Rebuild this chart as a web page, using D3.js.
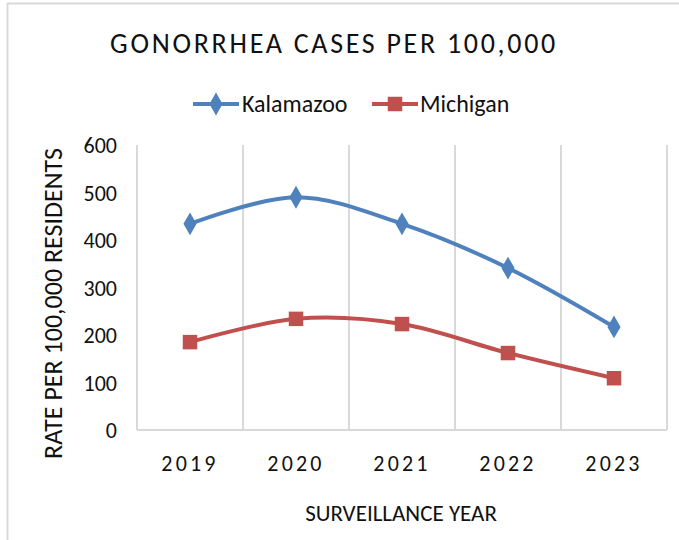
<!DOCTYPE html>
<html>
<head>
    <meta charset="utf-8">
    <script type="text/javascript" src="https://d3js.org/d3.v7.min.js"></script>
    <style>
        body { margin: 0; background: #fff; }
        text { font-family: Carlito, "Liberation Sans Narrow", "Open Sans", sans-serif; fill: #111; }
    </style>
</head>
<body>
    <div id="chart"></div>
    <script type="text/javascript">
        // chart data
        const years = ["2019", "2020", "2021", "2022", "2023"];
        const kalamazoo = [434, 490, 434, 341, 217];
        const michigan = [185, 234, 223, 162, 109];
        const yTicks = [0, 100, 200, 300, 400, 500, 600];

        const width = 679, height = 540;
        const plotLeft = 137, plotRight = 667, plotTop = 145, plotBottom = 430;

        const svg = d3.select("#chart")
            .append("svg")
            .attr("width", width)
            .attr("height", height);

        // outer chart border
        svg.append("rect")
            .attr("x", 7.5).attr("y", 3.5)
            .attr("width", 700).attr("height", 600)
            .style("fill", "none")
            .style("stroke", "#d9d9d9")
            .style("stroke-width", 2);

        let x = d3.scaleBand().domain(years).range([plotLeft, plotRight]);
        let y = d3.scaleLinear().domain([0, 600]).range([plotBottom, plotTop]);

        // vertical gridlines at category boundaries
        let bounds = years.map(d => x(d)).concat([plotRight]);
        svg.selectAll("line.grid")
            .data(bounds)
            .enter()
            .append("line")
            .attr("class", "grid")
            .attr("x1", d => d).attr("x2", d => d)
            .attr("y1", plotTop).attr("y2", plotBottom)
            .style("stroke", "#d9d9d9")
            .style("stroke-width", 2);

        svg.append("line")
            .attr("x1", plotLeft).attr("x2", plotRight)
            .attr("y1", plotBottom).attr("y2", plotBottom)
            .style("stroke", "#d9d9d9")
            .style("stroke-width", 2);

        // y axis labels
        let yAxis = svg.append("g")
            .attr("transform", `translate(${plotLeft - 20},0)`)
            .call(d3.axisLeft(y).tickValues(yTicks).tickSize(0).tickPadding(0));
        yAxis.select(".domain").remove();
        yAxis.attr("font-family", null).attr("font-size", null);
        yAxis.selectAll("text")
            .style("font-size", "22px")
            .attr("dy", "0.35em");

        // x axis labels
        let xAxis = svg.append("g")
            .attr("transform", `translate(0,${plotBottom})`)
            .call(d3.axisBottom(x).tickSize(0).tickPadding(25));
        xAxis.select(".domain").remove();
        xAxis.attr("font-family", null).attr("font-size", null);
        xAxis.selectAll("text")
            .style("font-size", "22px")
            .style("letter-spacing", "3.2px");

        // titles
        svg.append("text")
            .attr("x", 334).attr("y", 53)
            .attr("text-anchor", "middle")
            .style("font-size", "28px")
            .style("letter-spacing", "2.7px")
            .text("GONORRHEA CASES PER 100,000");

        svg.append("text")
            .attr("x", 401).attr("y", 521)
            .attr("text-anchor", "middle")
            .style("font-size", "23px")
            .text("SURVEILLANCE YEAR");

        svg.append("text")
            .attr("transform", `translate(62,${(plotTop + 462) / 2}) rotate(-90)`)
            .attr("text-anchor", "middle")
            .style("font-size", "26px")
            .text("RATE PER 100,000 RESIDENTS");

        // series
        const series = [
            {name: "Kalamazoo", values: kalamazoo, color: "#4f81bd", shape: d3.symbolDiamond},
            {name: "Michigan", values: michigan, color: "#c0504d", shape: d3.symbolSquare}
        ];

        let line = d3.line()
            .x((d, i) => x(years[i]) + x.bandwidth() / 2)
            .y(d => y(d))
            .curve(d3.curveCatmullRom.alpha(0));

        series.forEach(s => {
            svg.append("path")
                .attr("d", line(s.values))
                .style("fill", "none")
                .style("stroke", s.color)
                .style("stroke-width", 4);

            let size = s.shape === d3.symbolSquare ? 210 : 150;
            svg.selectAll("path.m" + s.name)
                .data(s.values)
                .enter()
                .append("path")
                .attr("class", "m" + s.name)
                .attr("d", d3.symbol().type(s.shape).size(size))
                .attr("transform", (d, i) => `translate(${x(years[i]) + x.bandwidth() / 2},${y(d)})`)
                .style("fill", s.color);
        });

        // legend
        const legendPos = [{lx: 193, tx: 242}, {lx: 372, tx: 420}];
        series.forEach((s, i) => {
            let g = svg.append("g").attr("transform", `translate(${legendPos[i].lx},104)`);
            g.append("line")
                .attr("x1", 0).attr("x2", 46)
                .style("stroke", s.color)
                .style("stroke-width", 4);
            let size = s.shape === d3.symbolSquare ? 210 : 150;
            g.append("path")
                .attr("d", d3.symbol().type(s.shape).size(size))
                .attr("transform", "translate(23,0)")
                .style("fill", s.color);
            svg.append("text")
                .attr("x", legendPos[i].tx).attr("y", 104)
                .attr("dy", "0.35em")
                .style("font-size", "24px")
                .text(s.name);
        });
    </script>
</body>
</html>
